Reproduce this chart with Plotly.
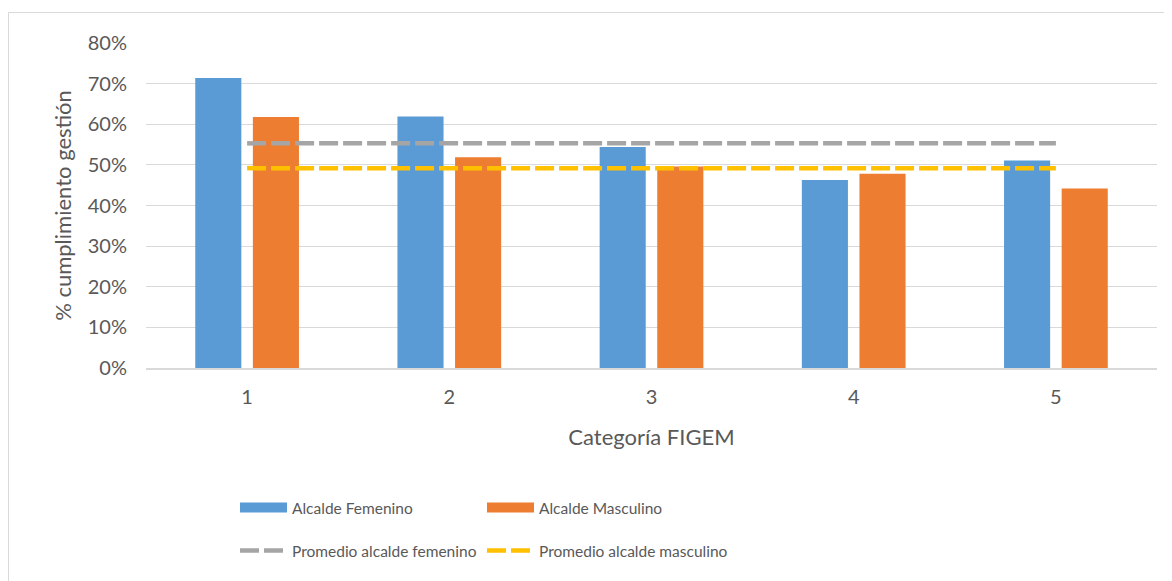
import plotly.graph_objects as go

categories = ["1", "2", "3", "4", "5"]
alcalde_femenino = [0.714, 0.619, 0.544, 0.463, 0.511]
alcalde_masculino = [0.618, 0.519, 0.496, 0.478, 0.442]
promedio_femenino = [0.553, 0.553, 0.553, 0.553, 0.553]
promedio_masculino = [0.492, 0.492, 0.492, 0.492, 0.492]

BLUE = "#5B9BD5"
ORANGE = "#ED7D31"
GRAY = "#A5A5A5"
YELLOW = "#FFC000"
TEXT = "#595959"
GRID = "#D9D9D9"
FONT = "Lato, 'Open Sans', sans-serif"

fig = go.Figure()
fig.add_trace(go.Bar(x=categories, y=alcalde_femenino, name="Alcalde Femenino",
                     marker=dict(color=BLUE, line=dict(width=0)), showlegend=False))
fig.add_trace(go.Bar(x=categories, y=alcalde_masculino, name="Alcalde Masculino",
                     marker=dict(color=ORANGE, line=dict(width=0)), showlegend=False))
fig.add_trace(go.Scatter(x=categories, y=promedio_femenino, name="Promedio alcalde femenino",
                         mode="lines", line=dict(color=GRAY, width=4.5, dash="19px,5px"),
                         legend="legend3"))
fig.add_trace(go.Scatter(x=categories, y=promedio_masculino, name="Promedio alcalde masculino",
                         mode="lines", line=dict(color=YELLOW, width=4.5, dash="19px,5px"),
                         legend="legend4"))
# legend swatches for the bars
fig.add_trace(go.Scatter(x=[None], y=[None], name="Alcalde Femenino", mode="lines",
                         line=dict(color=BLUE, width=14), legend="legend"))
fig.add_trace(go.Scatter(x=[None], y=[None], name="Alcalde Masculino", mode="lines",
                         line=dict(color=ORANGE, width=14), legend="legend2"))

# page has an 8px body margin; work in window pixel coordinates
OFF = 8
W, H = 1172 - OFF, 581 - OFF
L, R, T, B = 146 - OFF, 15, 43 - OFF, 213
pw, ph = W - L - R, H - T - B


def px_x(p):
    return (p - OFF - L) / pw


def px_y(p):
    return (H - B - (p - OFF)) / ph


def leg(xpx, ypx):
    return dict(orientation="h", x=px_x(xpx), xanchor="left", y=px_y(ypx), yanchor="middle",
                font=dict(size=15.5, color=TEXT), itemwidth=47, bgcolor="rgba(0,0,0,0)")


fig.update_layout(
    width=W, height=H,
    margin=dict(l=L, r=R, t=T, b=B),
    paper_bgcolor="white", plot_bgcolor="white",
    font=dict(family=FONT, color=TEXT, size=20),
    barmode="group", bargap=0.43, bargroupgap=0.2,
    xaxis=dict(type="category", showgrid=False, showline=True, linecolor=GRID, linewidth=1.5,
               ticks="", tickfont=dict(size=20), ticklabelstandoff=10,
               title=dict(text="Categoría FIGEM", font=dict(size=22), standoff=23)),
    yaxis=dict(range=[0, 0.8], dtick=0.1, tickformat=".0%", showgrid=True, gridcolor=GRID,
               gridwidth=1, zeroline=False, showline=False, ticks="",
               tickfont=dict(size=20), ticklabelstandoff=18,
               title=dict(text="% cumplimiento gestión", font=dict(size=22), standoff=10)),
    legend=leg(235, 508),
    legend2=leg(482, 508),
    legend3=leg(235, 551),
    legend4=leg(482, 551),
    shapes=[
        dict(type="line", xref="paper", yref="paper", x0=px_x(8.5), x1=px_x(1180),
             y0=px_y(12.5), y1=px_y(12.5), line=dict(color=GRID, width=1)),
        dict(type="line", xref="paper", yref="paper", x0=px_x(8.5), x1=px_x(8.5),
             y0=px_y(12.5), y1=px_y(600), line=dict(color=GRID, width=1)),
    ],
)

fig.write_html("out.html")
